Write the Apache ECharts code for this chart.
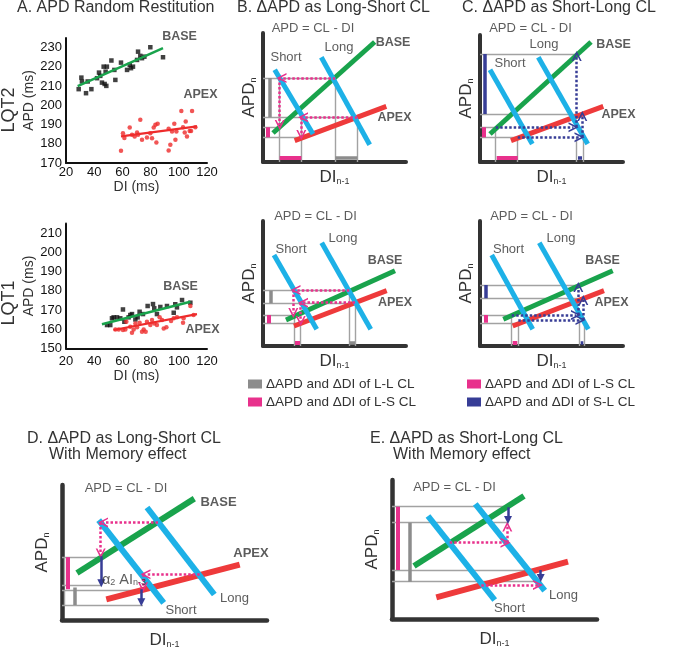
<!DOCTYPE html>
<html>
<head>
<meta charset="utf-8">
<script src="https://cdn.jsdelivr.net/npm/echarts@6/dist/echarts.min.js"></script>
<style>html,body{margin:0;padding:0;background:#fff}#chart{width:685px;height:650px}</style>
</head>
<body>
<div id="chart"></div>
<script>
// ---- panel A: APD random restitution (DI ms, APD ms) ----
const diTicks = [20, 40, 60, 80, 100, 120];
const lqt2Base = [[29,208.4],[30.9,214.4],[31.3,212.4],[34.2,206.3],[35.4,212.4],[38,208.4],[42,214.1],[43.4,217],[44.3,215.3],[45.5,211.8],[46.7,220.1],[47.4,211.1],[48.6,210.1],[48.1,217.5],[49,220.1],[52.2,223.3],[54.3,218.4],[55,213.2],[59,222.2],[63.3,218.4],[65.2,221],[66.1,219.3],[67.5,220.1],[70.4,223.6],[71.1,227.9],[72.7,225.7],[73.9,224.5],[75.6,225.3],[79.8,230.2],[88.8,225]];
const lqt2Apex = [[59,176.4],[60.4,185.5],[61.4,183],[65.2,188.5],[66.8,184.7],[68.7,183.8],[70.4,185.9],[71.1,184.7],[72.7,192.5],[73.9,182.1],[77.4,183.3],[79.8,185.5],[81,182.9],[82.2,188.5],[83.4,189.9],[84.1,180.7],[85,190.4],[92.8,187.8],[92.8,176.5],[94,179.5],[95.2,186.4],[96.8,190.4],[97.6,182.1],[98.3,186.4],[101.8,197],[103,188.6],[104.2,185.9],[104.9,191.6],[105.8,183.8],[107.7,186.7],[108.7,186.7],[109.4,197],[111.7,188.6]];
const lqt1Base = [[49.1,162.2],[51.4,162.2],[52.6,165.7],[53.8,166.2],[56.2,166.2],[58.5,165.7],[60.4,170.3],[61.4,163.9],[64.4,166.2],[65.6,167.4],[66.8,167.9],[69.2,165.1],[70.8,166.2],[72.2,169.1],[74.6,167.9],[77.9,172.1],[81.7,173.1],[82.6,170.9],[84.5,167.9],[86.9,171.6],[91.6,172.1],[96.4,168.6],[97.5,173],[98.7,171.4],[102.3,175.2],[108.2,173.8]];
const lqt1Apex = [[55,159.9],[57.4,159.9],[60.4,159.6],[62.1,159.9],[62.8,163.9],[65.6,161.3],[66.8,158.2],[68,159.9],[69.2,163],[70.4,161],[72.2,163.4],[73.9,158.7],[75.1,159.9],[76.5,158.7],[77.4,163.9],[79.8,162.2],[81,164.8],[82.6,163],[84.5,162.2],[86.4,166.2],[88.1,164.8],[89.3,160.4],[91.2,161],[94.5,164.3],[96.4,165.7],[98.7,166.2],[103,163.4],[103.4,165.7],[108.2,172.1],[110.5,167.4]];
const lqt2BaseFit = [[28.3,210],[88.8,229.7]];
const lqt2ApexFit = [[59,183.8],[113,189]];
const lqt1BaseFit = [[45.5,162.6],[108.2,174.3]];
const lqt1ApexFit = [[53.8,159.6],[112.9,167.9]];
const lqt2Labels = [[100.5,235.7,'BASE'],[115.4,205.5,'APEX']];
const lqt1Labels = [[101.2,182.4,'BASE'],[116.8,160,'APEX']];

// ---- schematic panels (arbitrary units along DI(n-1) and APD(n)) ----
// B top
const b1Base = [[10,29],[111.7,120]];
const b1Apex = [[31.7,21.3],[123.3,55.7]];
const b1Short = [[11.7,92.3],[50,28]];
const b1Long = [[58.3,104.7],[106.7,17.3]];
const b1Guides = [[[0,84],[72.3,84]],[[0,44.7],[94.3,44.7]],[[0,34.7],[16.7,34.7]],[[0,24.7],[38.3,24.7]],[[16.7,84],[16.7,0]],[[38.3,44.7],[38.3,0]],[[72.3,84],[72.3,0]],[[94.3,44.7],[94.3,0]]];
const b1GrayBars = [[[6.7,84],[6.7,44.7]],[[72.3,4.7],[94.3,4.7]]];
const b1PinkBars = [[[4.3,34.7],[4.3,24.7]],[[16.7,4.7],[38.3,4.7]]];
const b1PinkArrows = [[[72.3,84],[18.5,84]],[[16.7,84],[16.7,37]],[[94.3,44.7],[40,44.7]],[[38.3,44.7],[38.3,27]]];
const b1Labels = [[50,134,'APD = CL - DI'],[76,115,'Long'],[23,104.5,'Short'],[130,119,'BASE'],[131.5,44.7,'APEX']];
// C top
const c1Base = [[10,28],[111,120]];
const c1Apex = [[31,21.3],[123.3,55.7]];
const c1Short = [[10,92.3],[52.3,18]];
const c1Long = [[58.3,104.7],[107.7,18]];
const c1Guides = [[[0,108],[96.7,108]],[[0,48],[101.7,48]],[[0,34.7],[15.7,34.7]],[[0,24.7],[37.7,24.7]],[[15.7,34.7],[15.7,0]],[[37.7,24.7],[37.7,0]],[[96.7,24.7],[96.7,0]],[[103.3,24.7],[103.3,0]]];
const c1NavyBars = [[[5,108],[5,48]],[[98,4.7],[102,4.7]]];
const c1PinkBars = [[[4,34.7],[4,24.7]],[[16.7,4.7],[37.7,4.7]]];
const c1NavyArrows = [[[15.7,34.7],[93.5,34.7]],[[96.7,34.7],[96.7,106]],[[37.7,24.7],[99.5,24.7]],[[102.3,24.7],[102.3,46]]];
const c1Labels = [[50.5,134,'APD = CL - DI'],[64,117.3,'Long'],[30,99,'Short'],[133.5,117,'BASE'],[138.5,47,'APEX']];
// B bottom
const b2Base = [[23,26],[132,75.3]];
const b2Apex = [[31,20],[123.7,55.3]];
const b2Short = [[11,91],[53.7,16.7]];
const b2Long = [[58.7,103.3],[107.7,16.7]];
const b2Guides = [[[0,55.3],[86.3,55.3]],[[0,42.7],[92,42.7]],[[0,31],[31,31]],[[0,22.7],[37.7,22.7]],[[31,31],[31,0]],[[37.7,22.7],[37.7,0]],[[86.3,55.3],[86.3,0]],[[92,42.7],[92,0]]];
const b2GrayBars = [[[7.7,55.3],[7.7,42.7]],[[86.3,3],[92,3]]];
const b2PinkBars = [[[5.3,31],[5.3,22.7]],[[32,3],[37,3]]];
const b2PinkArrows = [[[86.3,56],[32.5,56]],[[30.3,56],[30.3,33]],[[92,43.3],[40,43.3]],[[37.7,43.3],[37.7,25]]];
const b2Labels = [[52.5,130,'APD = CL - DI'],[28,97,'Short'],[80,108,'Long'],[122,85,'BASE'],[132,43,'APEX']];
// C bottom
const c2Base = [[23.3,26.7],[132.7,75.3]];
const c2Apex = [[32.7,20],[124,55.3]];
const c2Short = [[11.7,91],[52.7,16.7]];
const c2Long = [[59.3,103.3],[108.3,16.7]];
const c2Guides = [[[0,61],[99.3,61]],[[0,47.7],[103.3,47.7]],[[0,31],[31.7,31]],[[0,22.7],[38.3,22.7]],[[31.7,31],[31.7,0]],[[38.3,22.7],[38.3,0]],[[99.3,26],[99.3,0]],[[104.3,26],[104.3,0]]];
const c2NavyBars = [[[5.7,61],[5.7,47.7]],[[100.7,3],[103.3,3]]];
const c2PinkBars = [[[5.7,31],[5.7,23.3]],[[32.7,3],[37.3,3]]];
const c2NavyArrows = [[[31.7,31],[96,31]],[[98.3,31],[98.3,59]],[[38.3,26],[100.5,26]],[[103.3,26],[103.3,46]]];
const c2Labels = [[51.5,130,'APD = CL - DI'],[28.5,97,'Short'],[81,108,'Long'],[122.5,85,'BASE'],[131.5,43,'APEX']];
// D
const dBase = [[15,47.3],[132.3,122.3]];
const dApex = [[44.3,20.7],[177.7,55.7]];
const dShort = [[36.7,100.7],[101.7,17.3]];
const dLong = [[85,113.3],[152.3,25.7]];
const dGuides = [[[0,63.3],[39.3,63.3]],[[0,35],[39.3,35]],[[0,30],[81,30]],[[0,15],[81,15]],[[2.7,63.3],[2.7,35]],[[2.7,30],[2.7,15]]];
const dGrayBars = [[[12.7,32.7],[12.7,15]]];
const dPinkBars = [[[5.3,63.3],[5.3,31]]];
const dPinkArrows = [[[96,98.3],[41,98.3]],[[38.7,98.3],[38.7,67]],[[137.7,46],[83.5,46]],[[81,46],[81,33]]];
const dNavySolid = [[[39.3,64.3],[39.3,37]],[[79.3,31],[79.3,18]]];
const dLabels = [[64,133,'APD = CL - DI'],[156.5,118,'BASE'],[189,67,'APEX'],[172.5,22,'Long'],[119,10,'Short'],[62,41,'{m|α}{s|2}{m| AI}{s|n-3}']];
// E
const eBase = [[22,53],[132,123]];
const eApex = [[44.3,21.7],[176,57.3]];
const eShort = [[36,103],[102.7,19]];
const eLong = [[83.3,115],[152.7,28.3]];
const eGuides = [[[0,112.3],[117.7,112.3]],[[0,96.3],[116,96.3]],[[0,49],[149.3,49]],[[0,37.3],[149.3,37.3]]];
const eGrayBars = [[[17.7,96.3],[17.7,37.3]]];
const ePinkBars = [[[6,112.3],[6,49]]];
const ePinkArrows = [[[57.7,76.3],[113.5,76.3]],[[115.3,76.3],[115.3,92.5]],[[89.3,34],[146,34]]];
const eNavySolid = [[[116,111.7],[116,99]],[[148.7,49],[148.7,41]]];
const eLabels = [[62.5,132,'APD = CL - DI'],[171.5,24,'Long'],[117.5,11,'Short']];

const LL = 'ΔAPD and ΔDI of L-L CL', LS = 'ΔAPD and ΔDI of L-S CL', SL = 'ΔAPD and ΔDI of S-L CL';

const FONT = '"Liberation Sans", Arial, Helvetica, sans-serif';
const C = {green:'#19a34c', red:'#ee3a3b', blue:'#1db1e7', pink:'#e8318c', navy:'#373d96', gray:'#a2a2a2', bar:'#8c8c8c', axis:'#333', text:'#333'};
const chevron = 'path://M0,10 L5,0 L10,10 L8.3,10 L5,3.4 L1.7,10 Z';

const chart = echarts.init(document.getElementById('chart'));

const grids = [
  {left:66, top:38, width:141, height:125},      // A LQT2
  {left:66, top:223.5, width:141, height:125},   // A LQT1
  {left:263, top:33, width:143, height:129},     // B top
  {left:480, top:35, width:143, height:127},     // C top
  {left:263, top:221, width:143, height:125},    // B bottom
  {left:480, top:221, width:143, height:125},    // C bottom
  {left:62, top:485, width:205, height:136},     // D
  {left:392, top:480, width:205, height:139}     // E
];

const subRich = {
  m: {fontSize:17, lineHeight:20, verticalAlign:'bottom', color:C.text, fontFamily:FONT},
  s: {fontSize:9, lineHeight:9, verticalAlign:'bottom', color:C.text, fontFamily:FONT}
};

const xAxes = [], yAxes = [];
[0, 1].forEach(i => {
  xAxes.push({gridIndex:i, type:'value', min:diTicks[0], max:diTicks[diTicks.length-1], interval:20,
    name:'DI (ms)', nameLocation:'middle', nameGap: i === 0 ? 17 : 21,
    nameTextStyle:{fontSize:14, color:C.text, fontFamily:FONT},
    axisLine:{onZero:false, lineStyle:{color:'#111', width:2}}, axisTick:{show:false}, splitLine:{show:false},
    axisLabel:{color:'#111', fontSize:13, fontFamily:FONT, margin: i === 0 ? 3 : 6}});
  yAxes.push({gridIndex:i, type:'value', min: i === 0 ? 170 : 150, max: i === 0 ? 235 : 215, interval:10,
    name:'APD (ms)', nameLocation:'middle', nameRotate:90, nameGap:29,
    nameTextStyle:{fontSize:14, color:C.text, fontFamily:FONT},
    axisLine:{onZero:false, lineStyle:{color:'#111', width:2}}, axisTick:{show:false}, splitLine:{show:false},
    axisLabel:{color:'#111', fontSize:13, fontFamily:FONT, margin:4, formatter: v => v % 10 === 0 ? String(v) : ''}});
});
for (let i = 2; i < 8; i++) {
  const big = i >= 6;
  xAxes.push({gridIndex:i, type:'value', min:0, max:grids[i].width,
    name:'{m|DI}{s|n-1}', nameLocation:'middle', nameGap: big ? 9 : 4, nameTextStyle:{rich:subRich},
    axisLine:{onZero:false, lineStyle:{color:C.axis, width: big ? 4.5 : 4}}, axisTick:{show:false}, axisLabel:{show:false}, splitLine:{show:false}});
  yAxes.push({gridIndex:i, type:'value', min:0, max:grids[i].height,
    name:'{m|APD}{s|n}', nameLocation:'middle', nameRotate:90, nameGap: big ? 11 : 5, nameTextStyle:{rich:subRich},
    axisLine:{onZero:false, lineStyle:{color:C.axis, width: big ? 4.5 : 4}}, axisTick:{show:false}, axisLabel:{show:false}, splitLine:{show:false}});
}

function labelSeries(g, list, fsBold) {
  return {type:'scatter', xAxisIndex:g, yAxisIndex:g, clip:false, silent:true, symbolSize:1, z:6,
    itemStyle:{color:'rgba(0,0,0,0)'},
    data: list.map(l => {
      const bold = l[2] === 'BASE' || l[2] === 'APEX';
      return {value:[l[0], l[1]], name:l[2], label:{fontWeight: bold ? 'bold' : 'normal', fontSize: bold ? fsBold : 13}};
    }),
    label:{show:true, position:'inside', formatter: p => p.name, color:C.text, fontFamily:FONT,
      rich:{m:{fontSize:14.5, lineHeight:16, verticalAlign:'bottom', color:C.text, fontFamily:FONT},
            s:{fontSize:9, lineHeight:9, verticalAlign:'bottom', color:C.text, fontFamily:FONT}}}};
}

const series = [];
[[0, lqt2Base, lqt2Apex, lqt2BaseFit, lqt2ApexFit, lqt2Labels], [1, lqt1Base, lqt1Apex, lqt1BaseFit, lqt1ApexFit, lqt1Labels]].forEach(([g, base, apex, bf, af, labels]) => {
  series.push({type:'scatter', xAxisIndex:g, yAxisIndex:g, data:base, symbol:'rect', symbolSize:4.5, itemStyle:{color:'#111'}, silent:true});
  series.push({type:'scatter', xAxisIndex:g, yAxisIndex:g, data:apex, symbol:'circle', symbolSize:4.5, itemStyle:{color:'#ee2b2b'}, silent:true});
  series.push({type:'line', xAxisIndex:g, yAxisIndex:g, data:bf, showSymbol:false, silent:true, lineStyle:{color:C.green, width:2.5}});
  series.push({type:'line', xAxisIndex:g, yAxisIndex:g, data:af, showSymbol:false, silent:true, lineStyle:{color:'#ee2b2b', width:2.2}});
  series.push(labelSeries(g, labels, 12.5));
});

const panels = [
  {g:2, lw:5, fsBold:12.5, base:b1Base, apex:b1Apex, short:b1Short, long:b1Long, guides:b1Guides, gray:b1GrayBars, pink:b1PinkBars, navy:[], pinkDots:b1PinkArrows, navyDots:[], navySolid:[], labels:b1Labels, grayName:LL, pinkName:LS},
  {g:3, lw:5, fsBold:12.5, base:c1Base, apex:c1Apex, short:c1Short, long:c1Long, guides:c1Guides, gray:[], pink:c1PinkBars, navy:c1NavyBars, pinkDots:[], navyDots:c1NavyArrows, navySolid:[], labels:c1Labels, pinkName:LS, navyName:SL},
  {g:4, lw:5, fsBold:12.5, base:b2Base, apex:b2Apex, short:b2Short, long:b2Long, guides:b2Guides, gray:b2GrayBars, pink:b2PinkBars, navy:[], pinkDots:b2PinkArrows, navyDots:[], navySolid:[], labels:b2Labels},
  {g:5, lw:5, fsBold:12.5, base:c2Base, apex:c2Apex, short:c2Short, long:c2Long, guides:c2Guides, gray:[], pink:c2PinkBars, navy:c2NavyBars, pinkDots:[], navyDots:c2NavyArrows, navySolid:[], labels:c2Labels},
  {g:6, lw:6, fsBold:13, base:dBase, apex:dApex, short:dShort, long:dLong, guides:dGuides, gray:dGrayBars, pink:dPinkBars, navy:[], pinkDots:dPinkArrows, navyDots:[], navySolid:dNavySolid, labels:dLabels},
  {g:7, lw:6, fsBold:13, base:eBase, apex:eApex, short:eShort, long:eLong, guides:eGuides, gray:eGrayBars, pink:ePinkBars, navy:[], pinkDots:ePinkArrows, navyDots:[], navySolid:eNavySolid, labels:eLabels}
];

panels.forEach(p => {
  const L = (data, style, extra) => Object.assign({type:'lines', coordinateSystem:'cartesian2d', xAxisIndex:p.g, yAxisIndex:p.g,
    silent:true, polyline:false, symbol:['none','none'], lineStyle:Object.assign({opacity:1, curveness:0}, style),
    data:data.map(c => ({coords:c}))}, extra || {});
  series.push(L(p.guides, {color:C.gray, width:1.4}));
  series.push(L(p.gray, {color:C.bar, width:3.5}, p.grayName ? {name:p.grayName} : {}));
  series.push(L(p.pink, {color:C.pink, width:4}, p.pinkName ? {name:p.pinkName} : {}));
  series.push(L(p.navy, {color:C.navy, width:3.5}, p.navyName ? {name:p.navyName} : {}));
  series.push(L([p.base], {color:C.green, width:p.lw}));
  series.push(L([p.apex], {color:C.red, width:p.lw}));
  series.push(L([p.short, p.long], {color:C.blue, width:p.lw}));
  series.push(L(p.pinkDots, {color:C.pink, width:2.5, type:[2.5,2]}, {symbol:['none', chevron], symbolSize:10}));
  series.push(L(p.navyDots, {color:C.navy, width:2.5, type:[2.5,2]}, {symbol:['none', chevron], symbolSize:10}));
  series.push(L(p.navySolid, {color:C.navy, width:2.5}, {symbol:['none','triangle'], symbolSize:8}));
  series.push(labelSeries(p.g, p.labels, p.fsBold));
});

const titleStyle = {fontSize:16, fontWeight:'normal', color:C.text, fontFamily:FONT};
const titles = [
  ['A. APD Random Restitution', 17, 0], ['B. ΔAPD as Long-Short CL', 237, 0], ['C. ΔAPD as Short-Long CL', 462, 0],
  ['D. ΔAPD as Long-Short CL', 27, 431], ['With Memory effect', 49, 447],
  ['E. ΔAPD as Short-Long CL', 370, 431], ['With Memory effect', 393, 447]
].map(t => ({text:t[0], left:t[1], top:t[2], padding:0, textStyle:titleStyle}));

const legendBase = {orient:'vertical', padding:0, itemGap:4, itemWidth:12, itemHeight:7, icon:'rect', selectedMode:false,
  textStyle:{fontSize:13.5, color:C.text, fontFamily:FONT}};

chart.setOption({
  animation:false,
  backgroundColor:'#fff',
  title:titles,
  legend:[
    Object.assign({left:248, top:377, data:[{name:LL, itemStyle:{color:C.bar}}, {name:LS, itemStyle:{color:C.pink}}]}, legendBase),
    Object.assign({left:467, top:377, data:[{name:LS, itemStyle:{color:C.pink}}, {name:SL, itemStyle:{color:C.navy}}]}, legendBase)
  ],
  graphic:[
    {type:'text', x:9, y:110, rotation:Math.PI/2, style:{text:'LQT2', font:'18px ' + FONT, fill:C.text, align:'center', verticalAlign:'middle'}},
    {type:'text', x:9, y:303, rotation:Math.PI/2, style:{text:'LQT1', font:'18px ' + FONT, fill:C.text, align:'center', verticalAlign:'middle'}}
  ],
  grid:grids,
  xAxis:xAxes,
  yAxis:yAxes,
  series:series
});
</script>
</body>
</html>
